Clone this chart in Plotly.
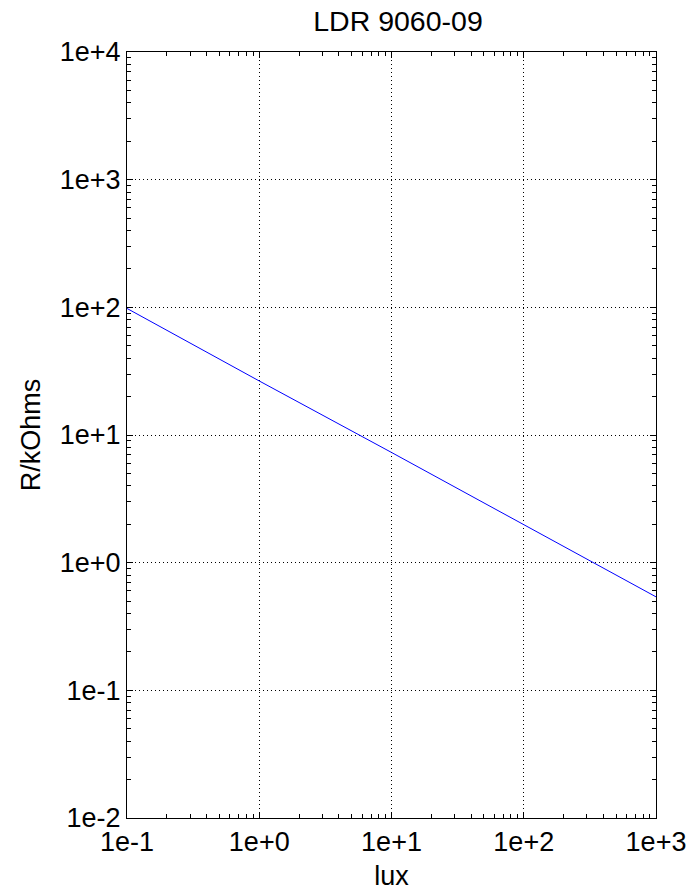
import plotly.graph_objects as go

# Light-dependent resistor characteristic: resistance vs illuminance
lux = [0.1, 1, 10, 100, 1000]
r_kohm = [98, 26.5, 7.3, 1.98, 0.54]

x_tickvals = [0.1, 1, 10, 100, 1000]
x_ticktext = ["1e-1", "1e+0", "1e+1", "1e+2", "1e+3"]
y_tickvals = [0.01, 0.1, 1, 10, 100, 1000, 10000]
y_ticktext = ["1e-2", "1e-1", "1e+0", "1e+1", "1e+2", "1e+3", "1e+4"]

FONT = "Liberation Sans, Arial, Helvetica, sans-serif"

fig = go.Figure()
fig.add_trace(go.Scatter(
    x=lux, y=r_kohm, mode="lines",
    line=dict(color="#0000ff", width=1),
    showlegend=False,
))

axis_common = dict(
    type="log", automargin=False,
    showline=True, linecolor="black", linewidth=1, mirror="allticks",
    ticks="inside", ticklen=6, tickcolor="black", tickwidth=1,
    showgrid=True, gridcolor="black", gridwidth=1, griddash="1px,3px",
    zeroline=False,
    tickfont=dict(family=FONT, size=27, color="black"),
    minor=dict(ticks="inside", ticklen=4, tickcolor="black", showgrid=False,
               dtick="D1"),
)

fig.update_layout(
    width=697, height=894,
    margin=dict(l=127, r=41, t=52, b=76),
    paper_bgcolor="white", plot_bgcolor="white",
    title=dict(text="LDR 9060-09", x=0.571, xanchor="center", y=0.977, yanchor="middle",
               font=dict(family=FONT, size=28.5, color="black")),
    xaxis=dict(
        range=[-1, 3], tickvals=x_tickvals, ticktext=x_ticktext,
        title=dict(text="lux", font=dict(family=FONT, size=27, color="black"), standoff=9),
        **axis_common,
    ),
    yaxis=dict(
        range=[-2, 4], tickvals=y_tickvals, ticktext=y_ticktext,
        title=dict(text="R/kOhms", font=dict(family=FONT, size=27, color="black"), standoff=11),
        **axis_common,
    ),
)

fig.write_html("out.html")
